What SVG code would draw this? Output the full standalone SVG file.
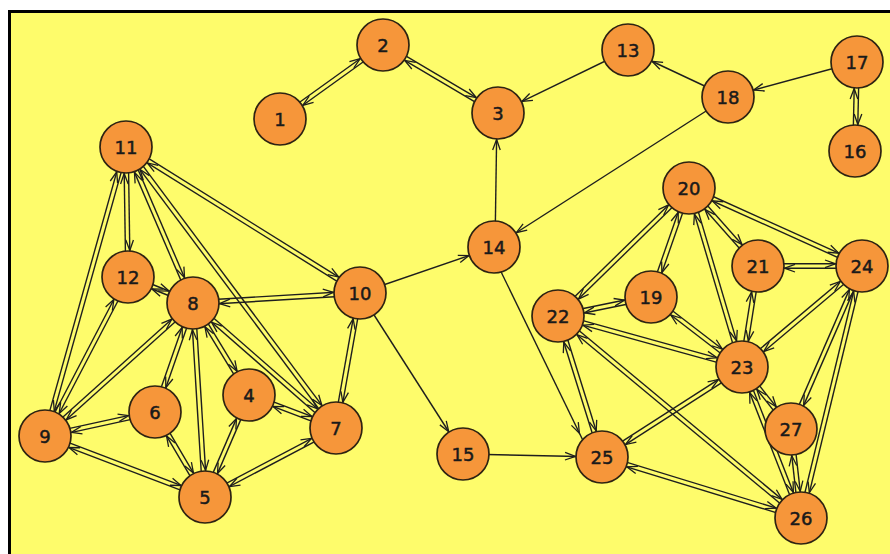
<svg xmlns="http://www.w3.org/2000/svg" width="890" height="554" viewBox="0 0 890 554">
<style>
.e{stroke:#1e1e1e;stroke-width:1.4;fill:none;marker-end:url(#ah)}
.n circle{fill:#F6963A;stroke:#2e2312;stroke-width:1.7}
.n text{font-family:"DejaVu Sans","Verdana",sans-serif;font-size:18px;fill:#1a1a1a;stroke:#1a1a1a;stroke-width:0.5;text-anchor:middle}
</style>
<defs>
<marker id="ah" markerUnits="userSpaceOnUse" orient="auto" overflow="visible" markerWidth="10" markerHeight="10" refX="0" refY="0">
<path d="M-37,-3.8 L-26.5,0 L-37,3.8" fill="none" stroke="#1e1e1e" stroke-width="1.3"/>
</marker>
</defs>
<rect x="0" y="0" width="890" height="554" fill="#ffffff"/>
<rect x="9.5" y="11.5" width="890" height="550" fill="#FEFC6B" stroke="#000" stroke-width="3"/>
<g id="connectors">
<line class="e" x1="278.7" y1="117.2" x2="381.7" y2="43.2"/>
<line class="e" x1="384.3" y1="46.8" x2="281.3" y2="120.8"/>
<line class="e" x1="384.1" y1="43.1" x2="499.1" y2="111.1"/>
<line class="e" x1="496.9" y1="114.9" x2="381.9" y2="46.9"/>
<line class="e" x1="859.2" y1="62" x2="857.2" y2="151"/>
<line class="e" x1="852.8" y1="151" x2="854.8" y2="62"/>
<line class="e" x1="128.2" y1="147" x2="130.2" y2="277"/>
<line class="e" x1="125.8" y1="277" x2="123.8" y2="147"/>
<line class="e" x1="128.1" y1="147.6" x2="47.1" y2="436.6"/>
<line class="e" x1="42.9" y1="435.4" x2="123.9" y2="146.4"/>
<line class="e" x1="128" y1="146.1" x2="195" y2="302.1"/>
<line class="e" x1="191" y1="303.9" x2="124" y2="147.9"/>
<line class="e" x1="127.8" y1="145.7" x2="337.8" y2="426.7"/>
<line class="e" x1="334.2" y1="429.3" x2="124.2" y2="148.3"/>
<line class="e" x1="127.2" y1="145.1" x2="361.2" y2="291.1"/>
<line class="e" x1="358.8" y1="294.9" x2="124.8" y2="148.9"/>
<line class="e" x1="129.9" y1="278" x2="46.9" y2="437"/>
<line class="e" x1="43.1" y1="435" x2="126.1" y2="276"/>
<line class="e" x1="128.8" y1="275" x2="193.8" y2="301"/>
<line class="e" x1="192.2" y1="305" x2="127.2" y2="279"/>
<line class="e" x1="192.9" y1="300.8" x2="359.9" y2="290.8"/>
<line class="e" x1="360.1" y1="295.2" x2="193.1" y2="305.2"/>
<line class="e" x1="194.5" y1="304.6" x2="46.5" y2="437.6"/>
<line class="e" x1="43.5" y1="434.4" x2="191.5" y2="301.4"/>
<line class="e" x1="195.1" y1="303.7" x2="157.1" y2="412.7"/>
<line class="e" x1="152.9" y1="411.3" x2="190.9" y2="302.3"/>
<line class="e" x1="195.2" y1="302.9" x2="207.2" y2="496.9"/>
<line class="e" x1="202.8" y1="497.1" x2="190.8" y2="303.1"/>
<line class="e" x1="194.9" y1="301.9" x2="250.9" y2="393.9"/>
<line class="e" x1="247.1" y1="396.1" x2="191.1" y2="304.1"/>
<line class="e" x1="194.4" y1="301.3" x2="337.4" y2="426.3"/>
<line class="e" x1="334.6" y1="429.7" x2="191.6" y2="304.7"/>
<line class="e" x1="362.2" y1="293.4" x2="338.2" y2="428.4"/>
<line class="e" x1="333.8" y1="427.6" x2="357.8" y2="292.6"/>
<line class="e" x1="44.5" y1="433.9" x2="154.5" y2="409.9"/>
<line class="e" x1="155.5" y1="414.1" x2="45.5" y2="438.1"/>
<line class="e" x1="45.8" y1="433.9" x2="205.8" y2="494.9"/>
<line class="e" x1="204.2" y1="499.1" x2="44.2" y2="438.1"/>
<line class="e" x1="156.9" y1="410.9" x2="206.9" y2="495.9"/>
<line class="e" x1="203.1" y1="498.1" x2="153.1" y2="413.1"/>
<line class="e" x1="251" y1="395.9" x2="207" y2="497.9"/>
<line class="e" x1="203" y1="496.1" x2="247" y2="394.1"/>
<line class="e" x1="249.8" y1="392.9" x2="336.8" y2="425.9"/>
<line class="e" x1="335.2" y1="430.1" x2="248.2" y2="397.1"/>
<line class="e" x1="337" y1="429.9" x2="206" y2="498.9"/>
<line class="e" x1="204" y1="495.1" x2="335" y2="426.1"/>
<line class="e" x1="690.5" y1="189.6" x2="559.5" y2="317.6"/>
<line class="e" x1="556.5" y1="314.4" x2="687.5" y2="186.4"/>
<line class="e" x1="691.1" y1="188.7" x2="653.1" y2="297.7"/>
<line class="e" x1="648.9" y1="296.3" x2="686.9" y2="187.3"/>
<line class="e" x1="691.1" y1="187.4" x2="744.1" y2="366.4"/>
<line class="e" x1="739.9" y1="367.6" x2="686.9" y2="188.6"/>
<line class="e" x1="690.6" y1="186.5" x2="759.6" y2="264.5"/>
<line class="e" x1="756.4" y1="267.5" x2="687.4" y2="189.5"/>
<line class="e" x1="689.9" y1="186" x2="862.9" y2="264"/>
<line class="e" x1="861.1" y1="268" x2="688.1" y2="190"/>
<line class="e" x1="758" y1="263.8" x2="862" y2="263.8"/>
<line class="e" x1="862" y1="268.2" x2="758" y2="268.2"/>
<line class="e" x1="760.2" y1="266.3" x2="744.2" y2="367.3"/>
<line class="e" x1="739.8" y1="366.7" x2="755.8" y2="265.7"/>
<line class="e" x1="863.4" y1="267.7" x2="743.4" y2="368.7"/>
<line class="e" x1="740.6" y1="365.3" x2="860.6" y2="264.3"/>
<line class="e" x1="864" y1="266.9" x2="793" y2="429.9"/>
<line class="e" x1="789" y1="428.1" x2="860" y2="265.1"/>
<line class="e" x1="864.1" y1="266.5" x2="803.1" y2="518.5"/>
<line class="e" x1="798.9" y1="517.5" x2="859.9" y2="265.5"/>
<line class="e" x1="557.6" y1="313.8" x2="650.6" y2="294.8"/>
<line class="e" x1="651.4" y1="299.2" x2="558.4" y2="318.2"/>
<line class="e" x1="558.6" y1="313.9" x2="742.6" y2="364.9"/>
<line class="e" x1="741.4" y1="369.1" x2="557.4" y2="318.1"/>
<line class="e" x1="652.3" y1="295.3" x2="743.3" y2="365.3"/>
<line class="e" x1="740.7" y1="368.7" x2="649.7" y2="298.7"/>
<line class="e" x1="560.1" y1="315.3" x2="604.1" y2="456.3"/>
<line class="e" x1="599.9" y1="457.7" x2="555.9" y2="316.7"/>
<line class="e" x1="559.4" y1="314.3" x2="802.4" y2="516.3"/>
<line class="e" x1="799.6" y1="519.7" x2="556.6" y2="317.7"/>
<line class="e" x1="743.2" y1="368.9" x2="603.2" y2="458.9"/>
<line class="e" x1="600.8" y1="455.1" x2="740.8" y2="365.1"/>
<line class="e" x1="743.7" y1="365.6" x2="792.7" y2="427.6"/>
<line class="e" x1="789.3" y1="430.4" x2="740.3" y2="368.4"/>
<line class="e" x1="744" y1="366.2" x2="803" y2="517.2"/>
<line class="e" x1="799" y1="518.8" x2="740" y2="367.8"/>
<line class="e" x1="793.2" y1="428.8" x2="803.2" y2="517.8"/>
<line class="e" x1="798.8" y1="518.2" x2="788.8" y2="429.2"/>
<line class="e" x1="602.6" y1="454.9" x2="801.6" y2="515.9"/>
<line class="e" x1="800.4" y1="520.1" x2="601.4" y2="459.1"/>
<line class="e" x1="628" y1="50" x2="498" y2="113"/>
<line class="e" x1="728" y1="97" x2="628" y2="50"/>
<line class="e" x1="857" y1="62" x2="728" y2="97"/>
<line class="e" x1="728" y1="97" x2="494" y2="247"/>
<line class="e" x1="495" y1="247" x2="497" y2="113"/>
<line class="e" x1="360" y1="293" x2="494" y2="247"/>
<line class="e" x1="360" y1="293" x2="463" y2="454"/>
<line class="e" x1="463" y1="454" x2="602" y2="457"/>
<line class="e" x1="489" y1="247" x2="591" y2="457"/>
</g>
<g id="n1" class="n"><circle cx="280" cy="119" r="26"/><text x="280" y="125.5">1</text></g>
<g id="n2" class="n"><circle cx="383" cy="45" r="26"/><text x="383" y="51.5">2</text></g>
<g id="n3" class="n"><circle cx="498" cy="113" r="26"/><text x="498" y="119.5">3</text></g>
<g id="n4" class="n"><circle cx="249" cy="395" r="26"/><text x="249" y="401.5">4</text></g>
<g id="n5" class="n"><circle cx="205" cy="497" r="26"/><text x="205" y="503.5">5</text></g>
<g id="n6" class="n"><circle cx="155" cy="412" r="26"/><text x="155" y="418.5">6</text></g>
<g id="n7" class="n"><circle cx="336" cy="428" r="26"/><text x="336" y="434.5">7</text></g>
<g id="n8" class="n"><circle cx="193" cy="303" r="26"/><text x="193" y="309.5">8</text></g>
<g id="n9" class="n"><circle cx="45" cy="436" r="26"/><text x="45" y="442.5">9</text></g>
<g id="n10" class="n"><circle cx="360" cy="293" r="26"/><text x="360" y="299.5">10</text></g>
<g id="n11" class="n"><circle cx="126" cy="147" r="26"/><text x="126" y="153.5">11</text></g>
<g id="n12" class="n"><circle cx="128" cy="277" r="26"/><text x="128" y="283.5">12</text></g>
<g id="n13" class="n"><circle cx="628" cy="50" r="26"/><text x="628" y="56.5">13</text></g>
<g id="n14" class="n"><circle cx="494" cy="247" r="26"/><text x="494" y="253.5">14</text></g>
<g id="n15" class="n"><circle cx="463" cy="454" r="26"/><text x="463" y="460.5">15</text></g>
<g id="n16" class="n"><circle cx="855" cy="151" r="26"/><text x="855" y="157.5">16</text></g>
<g id="n17" class="n"><circle cx="857" cy="62" r="26"/><text x="857" y="68.5">17</text></g>
<g id="n18" class="n"><circle cx="728" cy="97" r="26"/><text x="728" y="103.5">18</text></g>
<g id="n19" class="n"><circle cx="651" cy="297" r="26"/><text x="651" y="303.5">19</text></g>
<g id="n20" class="n"><circle cx="689" cy="188" r="26"/><text x="689" y="194.5">20</text></g>
<g id="n21" class="n"><circle cx="758" cy="266" r="26"/><text x="758" y="272.5">21</text></g>
<g id="n22" class="n"><circle cx="558" cy="316" r="26"/><text x="558" y="322.5">22</text></g>
<g id="n23" class="n"><circle cx="742" cy="367" r="26"/><text x="742" y="373.5">23</text></g>
<g id="n24" class="n"><circle cx="862" cy="266" r="26"/><text x="862" y="272.5">24</text></g>
<g id="n25" class="n"><circle cx="602" cy="457" r="26"/><text x="602" y="463.5">25</text></g>
<g id="n26" class="n"><circle cx="801" cy="518" r="26"/><text x="801" y="524.5">26</text></g>
<g id="n27" class="n"><circle cx="791" cy="429" r="26"/><text x="791" y="435.5">27</text></g>
</svg>
